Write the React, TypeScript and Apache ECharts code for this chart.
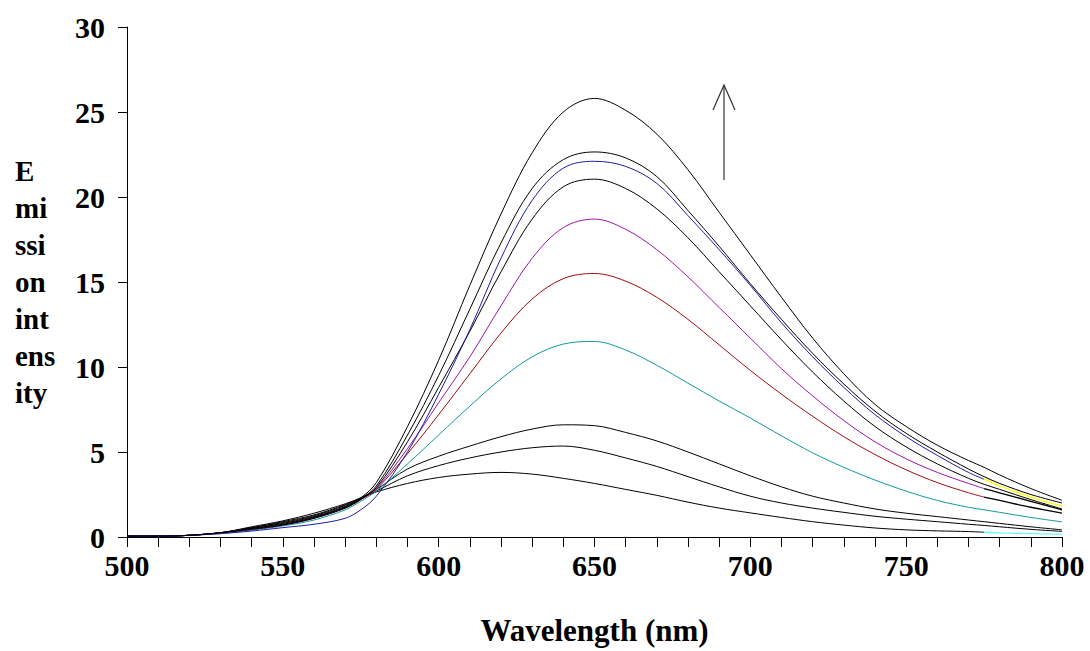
import React, { useEffect, useRef } from "react";
import * as echarts from "echarts";

const wavelengths = [500, 510, 520, 530, 540, 550, 560, 570, 575, 580, 590, 600, 610, 620, 630, 640, 650, 660, 670, 680, 690, 700, 710, 720, 730, 740, 750, 760, 770, 775, 780, 790, 800];

const curve1 = [0.05, 0.05, 0.1, 0.25, 0.5, 0.8, 1.2, 1.8, 2.3, 3.2, 6.5, 10.4, 14.8, 19.0, 22.6, 25.0, 25.8, 25.1, 23.7, 21.6, 19.1, 16.6, 14.1, 11.7, 9.6, 7.8, 6.5, 5.4, 4.5, 4.1, 3.65, 2.85, 2.16];
const curve2 = [0.05, 0.05, 0.1, 0.25, 0.5, 0.75, 1.15, 1.75, 2.25, 3.0, 6.0, 9.5, 13.4, 17.3, 20.5, 22.2, 22.65, 22.3, 21.2, 19.2, 17.1, 14.9, 12.8, 10.8, 9.0, 7.4, 6.1, 5.0, 4.0, 3.55, 3.15, 2.5, 2.0];
const curveBlue = [0.05, 0.05, 0.1, 0.2, 0.35, 0.55, 0.75, 1.1, 1.6, 2.4, 5.0, 8.4, 12.2, 16.4, 19.8, 21.7, 22.1, 21.8, 20.8, 18.9, 16.9, 14.8, 12.6, 10.6, 8.8, 7.2, 5.9, 4.8, 3.8, 3.4, 3.0, 2.35, 1.81];
const curve4 = [0.05, 0.05, 0.1, 0.25, 0.45, 0.7, 1.1, 1.7, 2.2, 2.9, 5.6, 8.8, 12.1, 15.6, 18.7, 20.6, 21.05, 20.5, 19.3, 17.6, 15.6, 13.6, 11.6, 9.7, 8.0, 6.5, 5.3, 4.3, 3.45, 3.1, 2.8, 2.2, 1.65];
const curveMagenta = [0.05, 0.05, 0.1, 0.25, 0.45, 0.7, 1.1, 1.7, 2.2, 2.85, 5.2, 7.9, 10.6, 13.6, 16.4, 18.2, 18.7, 18.1, 16.9, 15.3, 13.5, 11.7, 9.9, 8.3, 6.85, 5.6, 4.6, 3.8, 3.15, 2.85, 2.6, 2.1, 1.6];
const curveRed = [0.05, 0.05, 0.1, 0.25, 0.5, 0.75, 1.15, 1.75, 2.2, 2.8, 4.9, 7.2, 9.6, 12.0, 14.0, 15.2, 15.5, 15.05, 14.1, 12.8, 11.3, 9.8, 8.4, 7.1, 5.9, 4.85, 3.95, 3.2, 2.6, 2.35, 2.15, 1.75, 1.4];
const curveTeal = [0.05, 0.05, 0.1, 0.2, 0.4, 0.65, 1.0, 1.6, 2.1, 2.7, 4.3, 6.0, 7.7, 9.3, 10.6, 11.35, 11.5, 11.0, 10.1, 9.05, 8.0, 7.0, 5.95, 4.95, 4.1, 3.35, 2.7, 2.15, 1.75, 1.6, 1.45, 1.15, 0.89];
const curve8 = [0.05, 0.05, 0.1, 0.25, 0.55, 0.9, 1.3, 1.9, 2.3, 2.8, 4.0, 4.75, 5.35, 5.9, 6.35, 6.6, 6.55, 6.15, 5.65, 5.0, 4.3, 3.6, 2.95, 2.4, 2.0, 1.65, 1.4, 1.2, 1.0, 0.9, 0.8, 0.6, 0.42];
const curve9 = [0.05, 0.05, 0.1, 0.25, 0.55, 0.85, 1.25, 1.85, 2.25, 2.7, 3.6, 4.2, 4.65, 5.0, 5.25, 5.35, 5.1, 4.65, 4.15, 3.55, 2.95, 2.4, 2.0, 1.7, 1.45, 1.22, 1.05, 0.9, 0.75, 0.68, 0.6, 0.45, 0.33];
const curve10 = [0.05, 0.05, 0.1, 0.25, 0.6, 0.95, 1.4, 1.95, 2.3, 2.65, 3.15, 3.5, 3.7, 3.8, 3.7, 3.45, 3.15, 2.8, 2.45, 2.05, 1.7, 1.42, 1.15, 0.9, 0.7, 0.53, 0.42, 0.36, 0.32, 0.28, 0.24, 0.2, 0.15];

const xTicks = [500, 550, 600, 650, 700, 750, 800];
const yTicks = [0, 5, 10, 15, 20, 25, 30];

const curves = [
  { name: "c10", values: curve10, color: "#000000", tail: "#66ffff" },
  { name: "c9", values: curve9, color: "#000000", tail: "#000000" },
  { name: "c8", values: curve8, color: "#000000", tail: "#000000" },
  { name: "teal", values: curveTeal, color: "#0f9a9a", tail: "#0f9a9a" },
  { name: "red", values: curveRed, color: "#a00c0c", tail: "#000000" },
  { name: "magenta", values: curveMagenta, color: "#a015a8", tail: "#000000" },
  { name: "c4", values: curve4, color: "#000000", tail: "#000000" },
  { name: "c2", values: curve2, color: "#000000", tail: "#000000" },
  { name: "blue", values: curveBlue, color: "#1c1ca8", tail: "#ffff00" },
  { name: "c1", values: curve1, color: "#000000", tail: "#000000" },
];

const TAIL_FROM = 775;

const FONT = "'Liberation Serif', 'Times New Roman', serif";

export default function App() {
  const ref = useRef<HTMLDivElement>(null);

  useEffect(() => {
    if (!ref.current) return;
    const chart = echarts.init(ref.current, undefined, { renderer: "svg" });
    const tailIdx = wavelengths.indexOf(TAIL_FROM);
    const series: any[] = [];
    curves.forEach((c) => {
      const pts = wavelengths.map((w, i) => [w, c.values[i]]);
      const hasTail = c.tail !== c.color;
      series.push({
        type: "line",
        name: c.name,
        data: hasTail ? pts.slice(0, tailIdx + 1) : pts,
        showSymbol: false,
        smooth: 0.35,
        lineStyle: { color: c.color, width: 1 },
        itemStyle: { color: c.color },
        z: 2,
      });
      if (hasTail) {
        series.push({
          type: "line",
          name: c.name + "-tail",
          data: pts.slice(tailIdx),
          showSymbol: false,
          smooth: 0.35,
          lineStyle: { color: c.tail, width: 1.3 },
          itemStyle: { color: c.tail },
          z: 3,
        });
      }
    });

    chart.setOption({
      animation: false,
      backgroundColor: "#ffffff",
      grid: { left: 127, right: 28, top: 27, bottom: 110, containLabel: false },
      xAxis: {
        type: "value",
        min: xTicks[0],
        max: xTicks[xTicks.length - 1],
        interval: 50,
        name: "Wavelength (nm)",
        nameLocation: "middle",
        nameGap: 78,
        nameTextStyle: { fontFamily: FONT, fontWeight: "bold", fontSize: 31, color: "#000" },
        axisLine: { show: true, lineStyle: { color: "#000", width: 1 } },
        axisTick: { show: true, length: 10, lineStyle: { color: "#000", width: 1 } },
        minorTick: { show: true, splitNumber: 5, length: 10, lineStyle: { color: "#000", width: 1 } },
        splitLine: { show: false },
        minorSplitLine: { show: false },
        axisLabel: { fontFamily: FONT, fontWeight: "bold", fontSize: 30, color: "#000", margin: 13 },
      },
      yAxis: {
        type: "value",
        min: yTicks[0],
        max: yTicks[yTicks.length - 1],
        interval: 5,
        name: "E\nmi\nssi\non\nint\nens\nity",
        nameLocation: "middle",
        nameRotate: 0,
        nameGap: 112,
        nameTextStyle: { fontFamily: FONT, fontWeight: "bold", fontSize: 29, lineHeight: 37, color: "#000", align: "left" },
        axisLine: { show: true, lineStyle: { color: "#000", width: 1 } },
        axisTick: { show: true, length: 9, lineStyle: { color: "#000", width: 1 } },
        splitLine: { show: false },
        axisLabel: { fontFamily: FONT, fontWeight: "bold", fontSize: 30, color: "#000", margin: 22 },
      },
      graphic: [
        {
          type: "group",
          silent: true,
          children: [
            { type: "line", shape: { x1: 724, y1: 180, x2: 724, y2: 85 }, style: { stroke: "#333", lineWidth: 1.2 } },
            { type: "polyline", shape: { points: [[713, 110], [724, 85], [735, 110]] }, style: { stroke: "#333", lineWidth: 1.2, fill: "none" } },
          ],
        },
      ],
      series,
    });
    return () => chart.dispose();
  }, []);

  return (
    <div
      ref={ref}
      style={{ position: "fixed", left: 0, top: 0, width: 1090, height: 651, background: "#fff" }}
    />
  );
}
